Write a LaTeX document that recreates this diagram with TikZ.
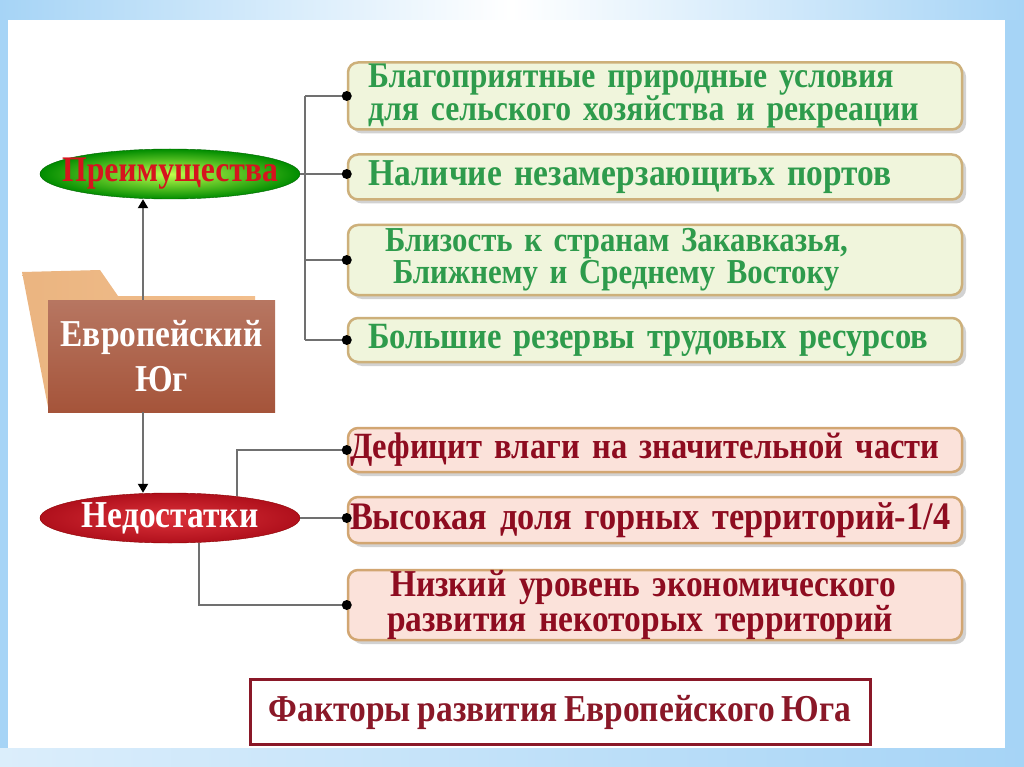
\documentclass[tikz,border=0pt]{standalone}
\usepackage{fontspec}
\setmainfont{Liberation Serif}
\newfontfamily\condfont[FakeStretch=0.88, WordSpace=0.8]{Liberation Serif}
\usetikzlibrary{positioning, arrows.meta, shapes.geometric, shadows}
\definecolor{bgblue}{HTML}{A6D4F6}
\definecolor{plustext}{HTML}{2E9B4C}
\definecolor{plusfill}{HTML}{F0F5DC}
\definecolor{plusborder}{HTML}{CDB07A}
\definecolor{minustext}{HTML}{8E0C20}
\definecolor{minusfill}{HTML}{FBE2DA}
\definecolor{minusborder}{HTML}{D2A672}
\definecolor{linkgray}{HTML}{707070}
\definecolor{titlered}{HTML}{8A1828}
\definecolor{folderfront}{HTML}{A5543A}
\definecolor{folderback}{HTML}{F2BE8C}
\tikzset{
  itembox/.style={
    draw,
    line width=2.5pt,
    rounded corners=10pt,
    minimum width=614pt,
    inner sep=0pt,
    text width=584pt,
    align=left,
    font=\condfont\bfseries\fontsize{38pt}{33pt}\selectfont,
    drop shadow={shadow xshift=4pt, shadow yshift=-4pt, opacity=0.35}
  },
  plusbox/.style={itembox, draw=plusborder, fill=plusfill, text=plustext, text width=574pt},
  minusbox/.style={itembox, draw=minusborder, fill=minusfill, text=minustext},
  pill/.style={
    ellipse,
    minimum width=260pt,
    minimum height=50pt,
    inner sep=0pt,
    font=\condfont\bfseries\fontsize{36pt}{36pt}\selectfont
  },
  link/.style={draw=linkgray, line width=2pt},
  uparrow/.style={link, -{Triangle[width=10pt, length=9pt, color=black]}}
}
\begin{document}
\begin{tikzpicture}[x=1pt, y=-1pt]
\useasboundingbox (0,0) rectangle (1024,767);
% frame
\fill[bgblue] (0,0) rectangle (1024,767);
\shade[left color=bgblue, right color=bgblue, middle color=white] (0,0) rectangle (1024,20);
\shade[left color=bgblue!40!white, right color=bgblue] (0,748) rectangle (1024,767);
\fill[white] (8,20) rectangle (1005,748);

% folder
\shade[left color=folderback!85!brown, right color=folderback] (22,272) -- (100,270) -- (118,296) -- (255,296) -- (255,330) -- (48,407) -- cycle;
\node[top color=folderfront!80!white, bottom color=folderfront, minimum width=227pt, minimum height=112pt,
      align=center, text=white, font=\condfont\bfseries\fontsize{38pt}{45pt}\selectfont] (eu) at (161.5,356) {Европейский\\Юг};

\node[pill, draw=green!40!black, inner color=green!35!yellow!70!white, outer color=green!55!black,
      text={rgb,255:red,214;green,20;blue,30}] (adv) at (170,174) {\makebox[0pt]{Преимущества}};
\node[pill, draw=red!55!black, inner color={rgb,255:red,220;green,50;blue,58}, outer color={rgb,255:red,176;green,16;blue,28},
      text=white, font=\condfont\bfseries\fontsize{38pt}{38pt}\selectfont] (dis) at (170,518) {\makebox[0pt]{Недостатки}};

\node[plusbox, minimum height=67pt, font=\condfont\bfseries\fontsize{36pt}{32pt}\selectfont] (g1) at (655,96)
  {Благоприятные природные условия\\для сельского хозяйства и рекреации};
\node[plusbox, minimum height=45pt] (g2) at (655,177) {Наличие незамерзающиъх портов};
\node[plusbox, minimum height=70pt, font=\condfont\bfseries\fontsize{35pt}{32pt}\selectfont] (g3) at (655,260)
  {\hspace*{17pt}Близость к странам Закавказья,\\\hspace*{25pt}Ближнему и Среднему Востоку};
\node[plusbox, minimum height=44pt, font=\condfont\bfseries\fontsize{37pt}{33pt}\selectfont] (g4) at (655,340)
  {Большие резервы трудовых ресурсов};

\node[minusbox, minimum height=44pt, text width=610pt, font=\condfont\bfseries\fontsize{37pt}{33pt}\selectfont] (r1) at (655,450)
  {Дефицит влаги на значительной части};
\node[minusbox, minimum height=46pt, text width=610pt, font=\condfont\bfseries\fontsize{39pt}{33pt}\selectfont] (r2) at (655,520)
  {Высокая доля горных территорий-1/4};
\node[minusbox, minimum height=70pt, font=\condfont\bfseries\fontsize{38pt}{32pt}\selectfont] (r3) at (655,605)
  {\hspace*{27pt}Низкий уровень экономического\\\hspace*{24pt}развития некоторых территорий};

\node[draw=titlered, line width=3pt, minimum width=620pt, minimum height=65pt, text=titlered,
      font=\condfont\bfseries\fontsize{38pt}{38pt}\selectfont] (title) at (560,712) {Факторы развития Европейского Юга};

% connectors
\coordinate (trunk) at (305,0);
\coordinate (axis) at (143,0);
\draw[link] (adv.east) -- (adv.east -| g2.west);
\draw[link] (trunk |- g1.west) -- (trunk |- g4.west);
\foreach \b in {g1,g3,g4} \draw[link] (trunk |- \b.west) -- (\b.west);
\draw[link] (dis.18) |- (r1.west);
\draw[link] (dis.east) -- (dis.east -| r2.west);
\draw[link] (dis.-40) |- (r3.west);
\foreach \b in {g1,g3,g4,r1,r3} \fill (\b.west) circle (5pt);
\fill (adv.east -| g2.west) circle (5pt);
\fill (dis.east -| r2.west) circle (5pt);

\draw[uparrow] (axis |- eu.north) -- (axis |- adv.south);
\draw[uparrow] (axis |- eu.south) -- (axis |- dis.north);
\end{tikzpicture}
\end{document}
